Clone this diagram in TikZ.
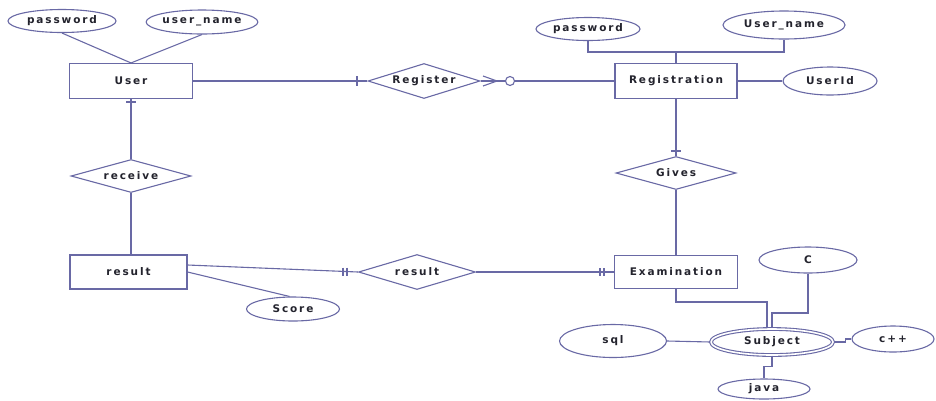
\documentclass[tikz,border=0pt]{standalone}
\usepackage{fontspec}
\newfontfamily\lblfont{DejaVu Sans}[LetterSpace=18]
\usetikzlibrary{shapes.geometric}
\definecolor{lc}{RGB}{105,105,165}
\definecolor{tc}{RGB}{35,35,45}
\newcommand\zw[1]{\makebox[0pt]{#1}}
\tikzset{
  lbl/.style={font=\lblfont\bfseries\fontsize{10.5}{12}\selectfont, text=tc, inner sep=0pt},
  ent/.style={lbl, draw=lc, line width=1.1pt, rectangle, fill=white},
  rel/.style={lbl, draw=lc, line width=1.1pt, diamond, fill=white},
  attr/.style={lbl, draw=lc, line width=1.1pt, ellipse, fill=white},
  conn/.style={draw=lc, line width=1.1pt},
}
\begin{document}
\begin{tikzpicture}[x=1pt, y=-1pt]
\useasboundingbox (0,0) rectangle (936,400);
% entities
\node[ent, minimum width=123pt, minimum height=35pt] (userE) at (131,81) {User};
\node[ent, minimum width=122pt, minimum height=35pt] (regn) at (676,81) {Registration};
\node[ent, minimum width=123pt, minimum height=33pt] (exam) at (676,272) {Examination};
\node[ent, minimum width=117pt, minimum height=34pt] (res) at (128.5,272) {result};
% relationships
\node[rel, minimum width=112pt, minimum height=35pt] (reg) at (424,81) {\zw{Register}};
\node[rel, minimum width=120pt, minimum height=33pt] (gives) at (676,173) {\zw{Gives}};
\node[rel, minimum width=120pt, minimum height=33pt] (recv) at (131,176) {\zw{receive}};
\node[rel, minimum width=117pt, minimum height=35pt] (resd) at (417,272) {\zw{result}};
% attributes
\node[attr, minimum width=108pt, minimum height=23pt] (pw1) at (62,21) {password};
\node[attr, minimum width=111pt, minimum height=24pt] (un1) at (202,22) {user\_name};
\node[attr, minimum width=104pt, minimum height=23pt] (pw2) at (588,29) {password};
\node[attr, minimum width=122pt, minimum height=28pt] (un2) at (784,25) {User\_name};
\node[attr, minimum width=94pt, minimum height=28pt] (uid) at (830,81) {UserId};
\node[attr, minimum width=93pt, minimum height=24pt] (score) at (293,309) {Score};
\node[attr, minimum width=98pt, minimum height=26pt] (cc) at (808,260) {C};
\node[attr, minimum width=107pt, minimum height=33pt] (sql) at (613,341) {sql};
\node[attr, minimum width=82pt, minimum height=26pt] (cpp) at (893,339) {c++};
\node[attr, minimum width=92pt, minimum height=20pt] (java) at (764,389) {java};
\node[attr, minimum width=122pt, minimum height=26pt, double, double distance=1.6pt] (subj) at (772,342) {Subject};
\coordinate (bus) at (676,52);
% connectors
\draw[conn] (pw1.south) -- (userE.north);
\draw[conn] (un1.south) -- (userE.north);
\draw[conn] (userE.east) -- (reg.west);
\draw[conn] (reg.east) -- (regn.west);
\draw[conn] (pw2.south) |- (bus) -| (un2.south);
\draw[conn] (bus) -- (regn.north);
\draw[conn] (regn.east) -- (uid.west);
\draw[conn] (regn.south) -- (gives.north);
\draw[conn] (gives.south) -- (exam.north);
\draw[conn] (userE.south) -- (recv.north);
\draw[conn] (recv.south) -- (recv.south |- res.north);
\draw[conn] ([yshift=7pt]res.east) -- (resd.west);
\draw[conn] (res.east) -- (score.105);
\draw[conn] (resd.east) -- (exam.west);
\draw[conn] (exam.south) |- ([xshift=-5pt]subj.north |- 0,302) -- ([xshift=-5pt]subj.north);
\draw[conn] (cc.south) |- (subj.north |- 0,313) -- (subj.north);
\draw[conn] (sql.east) -- (subj.west);
\draw[conn] (subj.east) -- ++(12,0) |- (cpp.west);
\draw[conn] (subj.south) -- ++(0,11) -| (java.north);
% cardinality marks
\draw[conn] (357,76) -- (357,86);
\draw[conn] (483,76) -- (497,81) -- (483,86);
\draw[conn, fill=white] (510,81) circle (4.5);
\draw[conn] (671,151) -- (681,151);
\draw[conn] (126,102) -- (136,102);
\draw[conn] (343,267.5) -- (343,275.5);
\draw[conn] (347,267.5) -- (347,275.5);
\draw[conn] (600,268) -- (600,276);
\draw[conn] (604,268) -- (604,276);
\end{tikzpicture}
\end{document}
